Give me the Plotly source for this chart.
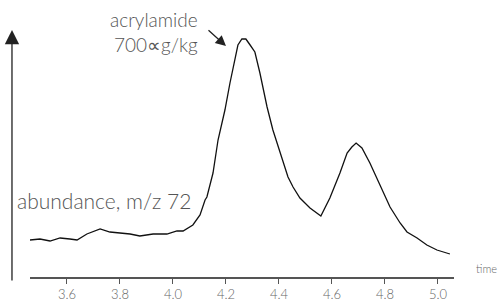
import plotly.graph_objects as go

# retention time (min) and abundance (arbitrary units)
time = [3.460, 3.498, 3.536, 3.574, 3.611, 3.638, 3.675, 3.725, 3.762, 3.800,
        3.838, 3.875, 3.925, 3.977, 4.015, 4.038, 4.075, 4.102, 4.121, 4.128,
        4.151, 4.170, 4.196, 4.215, 4.234, 4.245, 4.260, 4.275, 4.291, 4.309,
        4.328, 4.355, 4.377, 4.404, 4.415, 4.434, 4.453, 4.479, 4.517, 4.558,
        4.592, 4.630, 4.657, 4.675, 4.691, 4.713, 4.743, 4.781, 4.819, 4.857,
        4.883, 4.921, 4.958, 4.996, 5.045]
abundance = [37, 38, 36, 39, 38, 37, 43, 48, 45, 44,
             43, 41, 43, 43, 46, 46, 52, 62, 77, 80,
             104, 137, 167, 194, 220, 232, 238, 238, 232, 225,
             204, 170, 147, 124, 114, 100, 90, 79, 69, 61,
             79, 104, 124, 130, 134, 129, 114, 92, 70, 54,
             45, 39, 32, 27, 23]

tick_vals = [3.6, 3.8, 4.0, 4.2, 4.4, 4.6, 4.8, 5.0]
tick_text = ["3.6", "3.8", "4.0", "4.2", "4.4", "4.6", "4.8", "5.0"]

peak_time = 4.2
peak_abundance = 231

FONT = "Lato"
fig = go.Figure()
fig.add_trace(go.Scatter(x=time, y=abundance, mode="lines",
                         line=dict(color="#111111", width=1.3),
                         hoverinfo="skip", showlegend=False))

fig.update_layout(
    width=499, height=303,
    margin=dict(l=30, r=45, t=30, b=26),
    paper_bgcolor="white", plot_bgcolor="white",
    font=dict(family=FONT, color="#555555"),
    xaxis=dict(range=[3.4604, 5.0604], tickvals=tick_vals, ticktext=tick_text,
               showline=True, linecolor="#555555", linewidth=1.5,
               ticks="outside", ticklen=5, tickwidth=1.2, tickcolor="#555555",
               showgrid=False, zeroline=False, automargin=False,
               tickfont=dict(size=13, color="#666666", weight=300)),
    yaxis=dict(range=[0, 247], visible=False, automargin=False),
    annotations=[
        # vertical abundance axis arrow
        dict(xref="paper", yref="paper", x=-0.0425, y=1.0, ax=0, ay=252,
             showarrow=True, arrowhead=2, arrowsize=2.2, arrowwidth=1.3,
             arrowcolor="#222222", text=""),
        dict(xref="paper", yref="paper", x=-0.035, y=0.31, xanchor="left",
             yanchor="middle", showarrow=False, text="abundance, m/z 72",
             font=dict(size=21, color="#555555", family=FONT, weight=300)),
        dict(xref="paper", yref="paper", x=1.105, y=0.0, xanchor="right",
             yanchor="bottom", showarrow=False, text="time",
             font=dict(size=11, color="#666666", family=FONT, weight=300)),
        dict(x=peak_time, y=peak_abundance, ax=-19, ay=-17,
             showarrow=True, arrowhead=2, arrowsize=1.6, arrowwidth=1.3,
             arrowcolor="#222222", text=""),
        dict(xref="paper", yref="paper", x=0.40, y=0.99, xanchor="right",
             yanchor="middle", align="right", showarrow=False,
             text="acrylamide<br>700∝g/kg",
             font=dict(size=19, color="#555555", family=FONT, weight=300)),
    ],
)

fig.write_html("out.html", config={"displayModeBar": False},
               post_script="document.body.style.margin='0';")
